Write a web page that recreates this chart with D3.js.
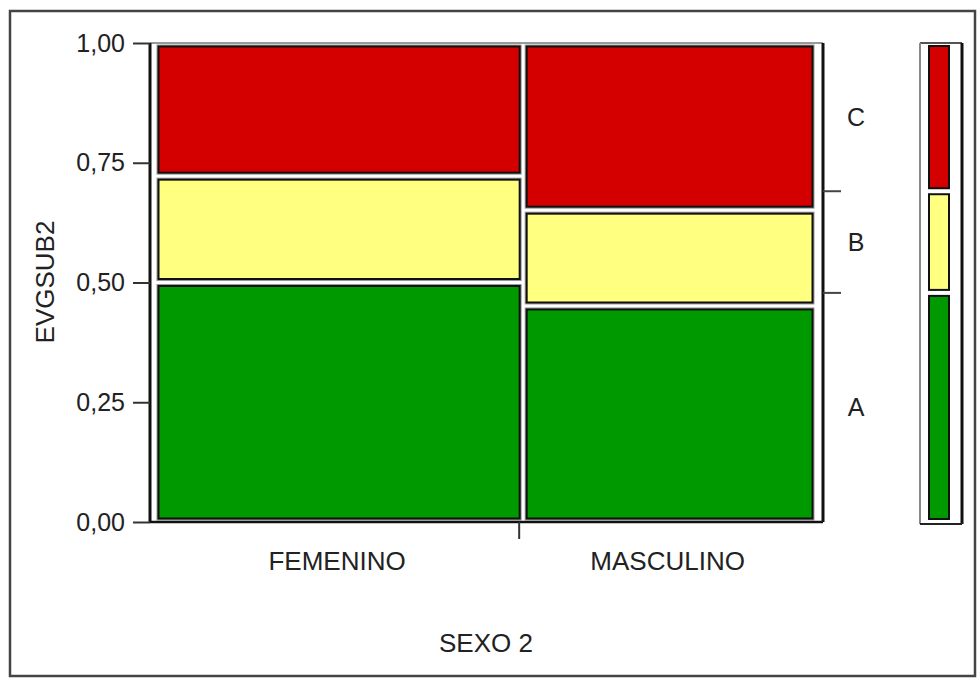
<!DOCTYPE html>
<html>
<head>
<meta charset="utf-8">
<script src="https://cdn.jsdelivr.net/npm/d3@7"></script>
<style>
  body { margin: 0; background: #fff; }
  text { font-family: "Liberation Sans", Arial, sans-serif; fill: #222; }
</style>
</head>
<body>
<div id="chart"></div>
<script>
// mosaic data: share of each sex, and the A/B/C split inside each one
const sexo = ["FEMENINO", "MASCULINO"];
const sexoShare = [0.557, 0.443];
const niveles = ["A", "B", "C"];
const propA = [0.500, 0.451];
const propB = [0.222, 0.200];
const propC = [0.278, 0.349];
const yTicks = [0, 0.25, 0.5, 0.75, 1];
const colores = ["#009900", "#FFFF80", "#D40000"];

const width = 979, height = 678;
const svg = d3.select("#chart").append("svg")
    .attr("width", width)
    .attr("height", height);

// outer border
svg.append("rect")
    .attr("x", 10).attr("y", 11)
    .attr("width", 965).attr("height", 665)
    .attr("fill", "none")
    .attr("stroke", "#444")
    .attr("stroke-width", 2.5);

const plot = { left: 150, right: 823, top: 43, bottom: 522 };

const y = d3.scaleLinear().domain([0, 1]).range([plot.bottom, plot.top]);
const x = d3.scaleLinear().domain([0, 1]).range([155, 816]);

const fmt = d3.formatLocale({ decimal: ",", thousands: "." }).format(".2f");

// cells
const props = [propA, propB, propC];
const cells = [];
let xStart = 0;
sexo.forEach((s, i) => {
    let yStart = 0;
    niveles.forEach((n, j) => {
        const p = props[j][i];
        cells.push({ x0: xStart, x1: xStart + sexoShare[i], y0: yStart, y1: yStart + p, color: colores[j] });
        yStart += p;
    });
    xStart += sexoShare[i];
});

const inset = 3.5;
const drawCells = (sel, stroke, sw) => sel.selectAll(null)
    .data(cells)
    .enter()
    .append("rect")
    .attr("x", d => x(d.x0) + inset)
    .attr("y", d => y(d.y1) + inset)
    .attr("width", d => x(d.x1) - x(d.x0) - 2 * inset)
    .attr("height", d => y(d.y0) - y(d.y1) - 2 * inset)
    .attr("fill", d => d.color)
    .attr("stroke", stroke)
    .attr("stroke-width", sw);

drawCells(svg.append("g"), "#999", 4);
drawCells(svg.append("g"), "#111", 2);

// plot frame
svg.append("line").attr("x1", plot.left).attr("x2", plot.right)
    .attr("y1", plot.top).attr("y2", plot.top)
    .attr("stroke", "#777").attr("stroke-width", 1.5);
svg.append("line").attr("x1", plot.left).attr("x2", plot.right)
    .attr("y1", plot.bottom).attr("y2", plot.bottom)
    .attr("stroke", "#111").attr("stroke-width", 2.5);
svg.append("line").attr("x1", plot.left).attr("x2", plot.left)
    .attr("y1", plot.top).attr("y2", plot.bottom)
    .attr("stroke", "#111").attr("stroke-width", 3);
svg.append("line").attr("x1", plot.right).attr("x2", plot.right)
    .attr("y1", plot.top).attr("y2", plot.bottom)
    .attr("stroke", "#111").attr("stroke-width", 3);

// y axis
const yAxis = svg.append("g")
    .attr("transform", `translate(${plot.left},0)`)
    .call(d3.axisLeft(y).tickValues(yTicks).tickFormat(fmt).tickSize(17).tickPadding(8));
yAxis.select(".domain").remove();
yAxis.selectAll(".tick line").attr("stroke", "#333").attr("stroke-width", 2);
yAxis.selectAll(".tick text")
    .style("font-family", "'Liberation Sans', Arial, sans-serif")
    .style("font-size", "25px")
    .attr("fill", "#222");

// x axis: one divider tick, labels in the middle of each column
svg.append("line")
    .attr("x1", x(sexoShare[0]) - 4).attr("x2", x(sexoShare[0]) - 4)
    .attr("y1", plot.bottom).attr("y2", plot.bottom + 17)
    .attr("stroke", "#333").attr("stroke-width", 2);

let acc = 0;
sexo.forEach((s, i) => {
    svg.append("text")
        .attr("x", x(acc + sexoShare[i] / 2) - 2)
        .attr("y", 570)
        .attr("text-anchor", "middle")
        .style("font-size", "26px")
        .text(s);
    acc += sexoShare[i];
});

svg.append("text")
    .attr("x", 486).attr("y", 652)
    .attr("text-anchor", "middle")
    .style("font-size", "26px")
    .text("SEXO 2");

svg.append("text")
    .attr("transform", "translate(54,282) rotate(-90)")
    .attr("text-anchor", "middle")
    .style("font-size", "26px")
    .text("EVGSUB2");

// marginal proportions over all
const margA = d3.sum(sexoShare.map((s, i) => s * propA[i]));
const margB = d3.sum(sexoShare.map((s, i) => s * propB[i]));
const marg = [[0, margA], [margA, margA + margB], [margA + margB, 1]];

// right ticks + level labels
[margA, margA + margB].forEach(v => {
    svg.append("line")
        .attr("x1", plot.right).attr("x2", plot.right + 18)
        .attr("y1", y(v)).attr("y2", y(v))
        .attr("stroke", "#444").attr("stroke-width", 2);
});
niveles.forEach((n, j) => {
    svg.append("text")
        .attr("x", 856)
        .attr("y", y((marg[j][0] + marg[j][1]) / 2) + 9)
        .attr("text-anchor", "middle")
        .style("font-size", "25px")
        .text(n);
});

// legend bar on the right
const leg = { left: 920, right: 962 };
svg.append("g").selectAll("rect")
    .data(marg)
    .enter()
    .append("rect")
    .attr("x", 929)
    .attr("y", d => y(d[1]) + 3)
    .attr("width", 20)
    .attr("height", d => y(d[0]) - y(d[1]) - 6)
    .attr("fill", (d, i) => colores[i])
    .attr("stroke", "#111")
    .attr("stroke-width", 2);

svg.append("line").attr("x1", leg.left).attr("x2", leg.right)
    .attr("y1", plot.top).attr("y2", plot.top)
    .attr("stroke", "#555").attr("stroke-width", 2);
svg.append("line").attr("x1", leg.left).attr("x2", leg.left)
    .attr("y1", plot.top).attr("y2", plot.bottom + 2)
    .attr("stroke", "#888").attr("stroke-width", 2);
svg.append("line").attr("x1", leg.right).attr("x2", leg.right)
    .attr("y1", plot.top).attr("y2", plot.bottom + 2)
    .attr("stroke", "#111").attr("stroke-width", 3);
svg.append("line").attr("x1", leg.left).attr("x2", leg.right)
    .attr("y1", plot.bottom + 2).attr("y2", plot.bottom + 2)
    .attr("stroke", "#222").attr("stroke-width", 2);
</script>
</body>
</html>
